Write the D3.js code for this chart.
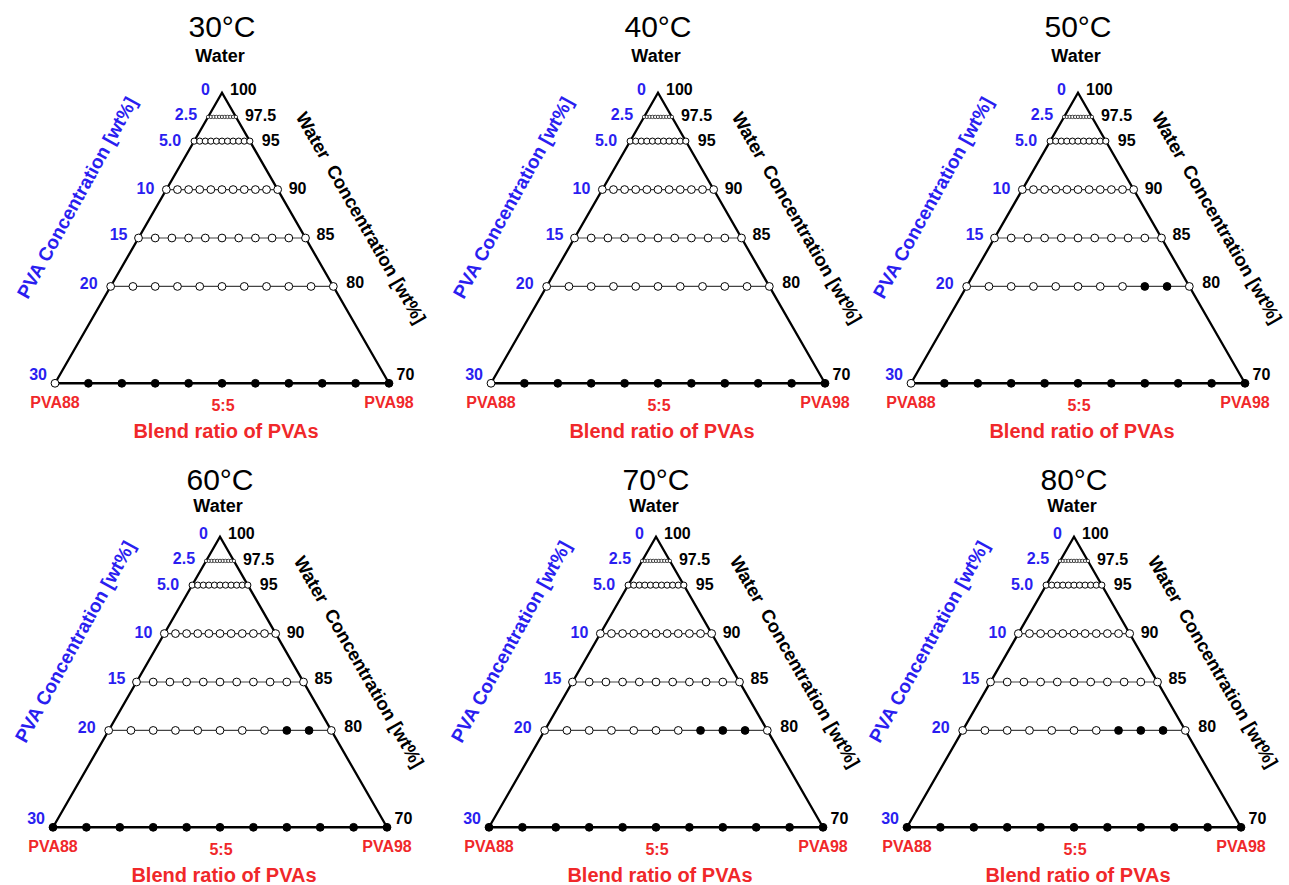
<!DOCTYPE html>
<html>
<head>
<meta charset="utf-8">
<script src="https://cdn.jsdelivr.net/npm/d3@7"></script>
<style>
  html, body { margin: 0; padding: 0; background: #fff; }
  svg { display: block; font-family: "Liberation Sans", Arial, sans-serif; }
</style>
</head>
<body>
<svg id="chart" width="1289" height="885"></svg>
<script>
// ---------------- DATA ----------------
const temperatures = ["30°C", "40°C", "50°C", "60°C", "70°C", "80°C"];
// PVA concentration levels (wt%) of the measured rows
const pvaLevels = [2.5, 5, 10, 15, 20, 30];
// Axis tick values / labels
const pvaTicks = [0, 2.5, 5, 10, 15, 20, 30];
const pvaTickLabels = ["0", "2.5", "5.0", "10", "15", "20", "30"];
const waterTickLabels = ["100", "97.5", "95", "90", "85", "80", "70"];
// Blend ratio steps PVA88:PVA98 = 10:0 ... 0:10
const blendSteps = [0, 1, 2, 3, 4, 5, 6, 7, 8, 9, 10];
const blendTickSteps = [0, 5, 10];
const blendTickLabels = ["PVA88", "5:5", "PVA98"];
// Gel state (1 = gel, filled; 0 = sol, open); rows follow pvaLevels, columns follow blendSteps
const gel30C = [
  [0,0,0,0,0,0,0,0,0,0,0],
  [0,0,0,0,0,0,0,0,0,0,0],
  [0,0,0,0,0,0,0,0,0,0,0],
  [0,0,0,0,0,0,0,0,0,0,0],
  [0,0,0,0,0,0,0,0,0,0,0],
  [0,1,1,1,1,1,1,1,1,1,1]
];
const gel40C = [
  [0,0,0,0,0,0,0,0,0,0,0],
  [0,0,0,0,0,0,0,0,0,0,0],
  [0,0,0,0,0,0,0,0,0,0,0],
  [0,0,0,0,0,0,0,0,0,0,0],
  [0,0,0,0,0,0,0,0,0,0,0],
  [0,1,1,1,1,1,1,1,1,1,1]
];
const gel50C = [
  [0,0,0,0,0,0,0,0,0,0,0],
  [0,0,0,0,0,0,0,0,0,0,0],
  [0,0,0,0,0,0,0,0,0,0,0],
  [0,0,0,0,0,0,0,0,0,0,0],
  [0,0,0,0,0,0,0,0,1,1,0],
  [0,1,1,1,1,1,1,1,1,1,1]
];
const gel60C = [
  [0,0,0,0,0,0,0,0,0,0,0],
  [0,0,0,0,0,0,0,0,0,0,0],
  [0,0,0,0,0,0,0,0,0,0,0],
  [0,0,0,0,0,0,0,0,0,0,0],
  [0,0,0,0,0,0,0,0,1,1,0],
  [1,1,1,1,1,1,1,1,1,1,1]
];
const gel70C = [
  [0,0,0,0,0,0,0,0,0,0,0],
  [0,0,0,0,0,0,0,0,0,0,0],
  [0,0,0,0,0,0,0,0,0,0,0],
  [0,0,0,0,0,0,0,0,0,0,0],
  [0,0,0,0,0,0,0,1,1,1,0],
  [1,1,1,1,1,1,1,1,1,1,1]
];
const gel80C = [
  [0,0,0,0,0,0,0,0,0,0,0],
  [0,0,0,0,0,0,0,0,0,0,0],
  [0,0,0,0,0,0,0,0,0,0,0],
  [0,0,0,0,0,0,0,0,0,0,0],
  [0,0,0,0,0,0,0,1,1,1,0],
  [1,1,1,1,1,1,1,1,1,1,1]
];
const gelStates = [gel30C, gel40C, gel50C, gel60C, gel70C, gel80C];

// ---------------- LAYOUT ----------------
const BLUE = "#2a1ef0";
const RED = "#f0282a";
const svg = d3.select("#chart");

const colCenters = [[222, 658, 1078], [220, 656, 1074]];
const rowApex = [92.7, 536.7];
const triHeight = 290.6;
const halfBase = 167;
const titleOffsets = [{t: -55.5, w: -30.7}, {t: -46.7, w: -25.2}];

// per-tick label tweaks
const leftGap = [12, 11, 13, 12, 11, 13, 8];
const leftDy = [2.5, 3.5, 4.6, 4.2, 2.4, 2.2, -3.3];
const rightGap = [8, 9, 12, 11, 11, 13, 7.5];
const rightDy = [2.3, 4.4, 4.7, 4.7, 2.4, 1.6, -3.3];

function radiusFor(level) {
  if (level <= 2.5) return 1.7;
  if (level <= 5) return 3.1;
  return 3.9;
}

temperatures.forEach((temp, i) => {
  const r = Math.floor(i / 3), c = i % 3;
  const cx = colCenters[r][c];
  const apexY = rowApex[r];
  const state = gelStates[i];

  const y = d3.scaleLinear().domain([0, 30]).range([apexY, apexY + triHeight]);
  const hw = d3.scaleLinear().domain([0, 30]).range([0, halfBase]);
  const xAt = level => d3.scaleLinear().domain([0, 10]).range([cx - hw(level), cx + hw(level)]);

  const g = svg.append("g");

  // Title
  g.append("text").attr("x", cx).attr("y", apexY + titleOffsets[r].t)
    .attr("text-anchor", "middle").attr("font-size", 30).attr("fill", "#000").text(temp);
  g.append("text").attr("x", cx - 2).attr("y", apexY + titleOffsets[r].w)
    .attr("text-anchor", "middle").attr("font-size", 18).attr("font-weight", "bold").attr("fill", "#000").text("Water");

  // Rows (connecting lines)
  pvaLevels.forEach((lvl) => {
    const xs = xAt(lvl);
    const ly = y(lvl);
    g.append("line")
      .attr("x1", xs(0)).attr("x2", xs(10)).attr("y1", ly).attr("y2", ly)
      .attr("stroke", lvl === 30 ? "#000" : "#444")
      .attr("stroke-width", lvl === 30 ? 2.4 : 1.2);
  });

  // Triangle sides
  g.append("path")
    .attr("d", d3.line()([[cx - hw(30), y(30)], [cx, y(0)], [cx + hw(30), y(30)]]))
    .attr("fill", "none").attr("stroke", "#000").attr("stroke-width", 2.3)
    .attr("stroke-linejoin", "miter");

  // Points
  pvaLevels.forEach((lvl, k) => {
    const xs = xAt(lvl);
    const ly = y(lvl);
    g.selectAll(null).data(blendSteps).enter().append("circle")
      .attr("cx", d => xs(d)).attr("cy", ly).attr("r", radiusFor(lvl))
      .attr("fill", d => state[k][d] ? "#000" : "#fff")
      .attr("stroke", "#000").attr("stroke-width", lvl <= 2.5 ? 0.7 : 1);
  });

  // Left (PVA) tick labels
  pvaTicks.forEach((t, k) => {
    g.append("text")
      .attr("x", cx - hw(t) - leftGap[k]).attr("y", y(t) + leftDy[k])
      .attr("text-anchor", "end").attr("font-size", 16).attr("font-weight", "bold")
      .attr("fill", BLUE).text(pvaTickLabels[k]);
  });
  // Right (water) tick labels
  pvaTicks.forEach((t, k) => {
    g.append("text")
      .attr("x", cx + hw(t) + rightGap[k]).attr("y", y(t) + rightDy[k])
      .attr("text-anchor", "start").attr("font-size", 16).attr("font-weight", "bold")
      .attr("fill", "#000").text(waterTickLabels[k]);
  });

  // Bottom blend labels
  const xb = xAt(30);
  blendTickSteps.forEach((s, k) => {
    g.append("text")
      .attr("x", xb(s) + (k === 1 ? 1 : 0)).attr("y", y(30) + (k === 1 ? 27.5 : 25))
      .attr("text-anchor", "middle").attr("font-size", 16).attr("font-weight", "bold")
      .attr("fill", RED).text(blendTickLabels[k]);
  });
  g.append("text").attr("x", cx + 4).attr("y", y(30) + 55)
    .attr("text-anchor", "middle").attr("font-size", 20).attr("font-weight", "bold")
    .attr("fill", RED).text("Blend ratio of PVAs");

  // Axis titles
  const lx = cx - 145, lyc = apexY + 105;
  g.append("text")
    .attr("transform", `translate(${lx},${lyc}) rotate(-61)`)
    .attr("text-anchor", "middle").attr("dominant-baseline", "central")
    .attr("font-size", 19).attr("font-weight", "bold").attr("fill", BLUE)
    .text("PVA Concentration [wt%]");
  const rx = cx + 139, ryc = apexY + 125;
  g.append("text")
    .attr("transform", `translate(${rx},${ryc}) rotate(60)`)
    .attr("text-anchor", "middle").attr("dominant-baseline", "central")
    .attr("font-size", 18.5).attr("font-weight", "bold").attr("fill", "#000")
    .style("white-space", "pre")
    .text("Water  Concentration [wt%]");
});
</script>
</body>
</html>
